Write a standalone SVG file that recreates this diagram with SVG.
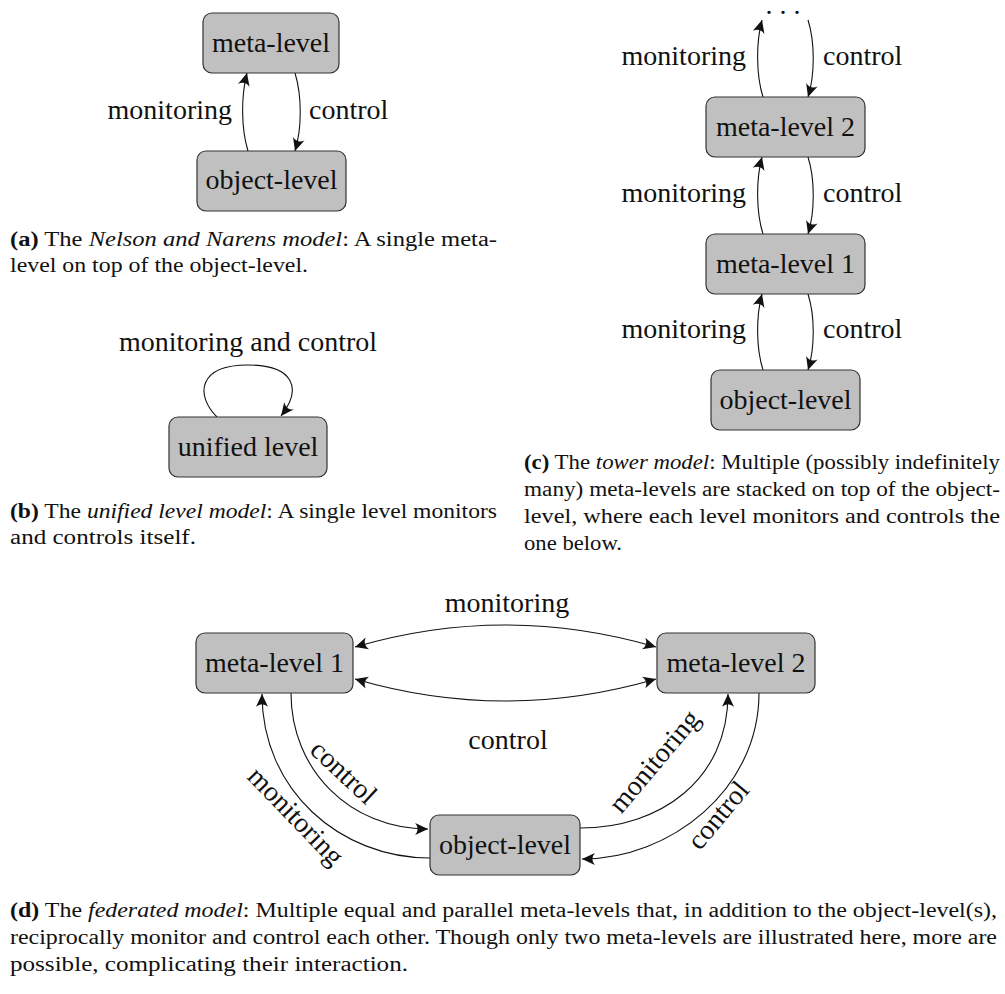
<svg xmlns="http://www.w3.org/2000/svg" width="1005" height="994" viewBox="0 0 1005 994">
<style>
.box{fill:#c0c0c0;stroke:#333;stroke-width:1.2}
.nt{font-family:"Liberation Serif","Times New Roman",serif;font-size:28px;fill:#111;text-anchor:middle}
.lb{font-family:"Liberation Serif","Times New Roman",serif;font-size:28px;fill:#111}
.cap{font-family:"Liberation Serif","Times New Roman",serif;font-size:20.5px;fill:#111}
.e{fill:none;stroke:#111;stroke-width:1.1}
.a{marker-end:url(#ah)}
.aa{marker-end:url(#ah);marker-start:url(#ah)}
</style>
<defs>
<marker id="ah" markerUnits="userSpaceOnUse" markerWidth="20" markerHeight="20" refX="0" refY="0" viewBox="-12 -6 14 12" orient="auto-start-reverse" overflow="visible">
<path d="M0 0 L-9 -4.2 Q-5.5 0 -9 4.2 Z" fill="#111"/>
</marker>
</defs>

<g id="connectors">
<!-- (a) -->
<path class="e a" d="M248 151 C241 128 241 96 247 73"/>
<path class="e a" d="M295 73 C302 96 302 128 295 151"/>
<!-- (b) -->
<path class="e a" d="M217 417 C195 395 198 365 248 365 C293 365 303 388 281 416"/>
<!-- (c) -->
<path class="e a" d="M763 97 C756 75 756 42 762 20"/>
<path class="e a" d="M808 20 C815 42 815 75 808 97"/>
<path class="e a" d="M763 234 C756 212 756 179 762 157"/>
<path class="e a" d="M808 157 C815 179 815 212 808 234"/>
<path class="e a" d="M763 370 C756 348 756 316 762 294"/>
<path class="e a" d="M808 294 C815 316 815 348 808 370"/>
<!-- (d) -->
<path class="e aa" d="M355 647 Q505 603 656 647"/>
<path class="e aa" d="M355 679 Q505 723 656 679"/>
<path class="e a" d="M291 693 C291 770 350 829 428 829"/>
<path class="e a" d="M430 858 C340 858 262 790 262 694"/>
<path class="e a" d="M580 828 C660 828 728 780 728 694"/>
<path class="e a" d="M759 693 C759 790 670 859 582 859"/>
</g>

<g id="labels">
<text class="lb" x="232" y="119" text-anchor="end">monitoring</text>
<text class="lb" x="309" y="119">control</text>
<text class="lb" x="248" y="351" text-anchor="middle">monitoring and control</text>
<text class="lb" x="783" y="14" text-anchor="middle" font-size="24">. . .</text>
<text class="lb" x="746" y="65" text-anchor="end">monitoring</text>
<text class="lb" x="823" y="65">control</text>
<text class="lb" x="746" y="202" text-anchor="end">monitoring</text>
<text class="lb" x="823" y="202">control</text>
<text class="lb" x="746" y="338" text-anchor="end">monitoring</text>
<text class="lb" x="823" y="338">control</text>
<text class="lb" x="507" y="612" text-anchor="middle">monitoring</text>
<text class="lb" x="508" y="749" text-anchor="middle">control</text>
<text class="lb" text-anchor="middle" transform="translate(343 773) rotate(43)" y="8">control</text>
<text class="lb" text-anchor="middle" transform="translate(295 817) rotate(46)" y="8">monitoring</text>
<text class="lb" text-anchor="middle" transform="translate(655 762) rotate(-50)" y="8">monitoring</text>
<text class="lb" text-anchor="middle" transform="translate(719 816) rotate(-50)" y="8">control</text>
</g>

<g id="n-a-meta"><rect class="box" x="203" y="13" width="136" height="60" rx="9"/><text class="nt" x="271" y="52">meta-level</text></g>
<g id="n-a-object"><rect class="box" x="197" y="151" width="149" height="60" rx="9"/><text class="nt" x="271.5" y="189">object-level</text></g>
<g id="n-b-unified"><rect class="box" x="169" y="417" width="158" height="60" rx="9"/><text class="nt" x="248" y="456">unified level</text></g>
<g id="n-c-meta2"><rect class="box" x="706" y="97" width="159" height="60" rx="9"/><text class="nt" x="785.5" y="136">meta-level 2</text></g>
<g id="n-c-meta1"><rect class="box" x="706" y="234" width="159" height="60" rx="9"/><text class="nt" x="785.5" y="273">meta-level 1</text></g>
<g id="n-c-object"><rect class="box" x="711" y="370" width="149" height="60" rx="9"/><text class="nt" x="785.5" y="409">object-level</text></g>
<g id="n-d-meta1"><rect class="box" x="196" y="633" width="157" height="60" rx="9"/><text class="nt" x="274.5" y="672">meta-level 1</text></g>
<g id="n-d-meta2"><rect class="box" x="657" y="633" width="158" height="60" rx="9"/><text class="nt" x="736" y="672">meta-level 2</text></g>
<g id="n-d-object"><rect class="box" x="430" y="815" width="150" height="60" rx="9"/><text class="nt" x="505" y="854">object-level</text></g>

<g id="captions">
<text class="cap" x="10" y="246" textLength="487" lengthAdjust="spacingAndGlyphs"><tspan font-weight="bold">(a)</tspan> The <tspan font-style="italic">Nelson and Narens model</tspan>: A single meta-</text>
<text class="cap" x="10" y="272" textLength="298" lengthAdjust="spacingAndGlyphs">level on top of the object-level.</text>
<text class="cap" x="10" y="518" textLength="487" lengthAdjust="spacingAndGlyphs"><tspan font-weight="bold">(b)</tspan> The <tspan font-style="italic">unified level model</tspan>: A single level monitors</text>
<text class="cap" x="10" y="544" textLength="186" lengthAdjust="spacingAndGlyphs">and controls itself.</text>
<text class="cap" x="524" y="469" textLength="476" lengthAdjust="spacingAndGlyphs"><tspan font-weight="bold">(c)</tspan> The <tspan font-style="italic">tower model</tspan>: Multiple (possibly indefinitely</text>
<text class="cap" x="524" y="496" textLength="476" lengthAdjust="spacingAndGlyphs">many) meta-levels are stacked on top of the object-</text>
<text class="cap" x="524" y="523" textLength="476" lengthAdjust="spacingAndGlyphs">level, where each level monitors and controls the</text>
<text class="cap" x="524" y="550" textLength="98" lengthAdjust="spacingAndGlyphs">one below.</text>
<text class="cap" x="10" y="917" textLength="987" lengthAdjust="spacingAndGlyphs"><tspan font-weight="bold">(d)</tspan> The <tspan font-style="italic">federated model</tspan>: Multiple equal and parallel meta-levels that, in addition to the object-level(s),</text>
<text class="cap" x="10" y="944" textLength="987" lengthAdjust="spacingAndGlyphs">reciprocally monitor and control each other. Though only two meta-levels are illustrated here, more are</text>
<text class="cap" x="10" y="971" textLength="398" lengthAdjust="spacingAndGlyphs">possible, complicating their interaction.</text>
</g>
</svg>
